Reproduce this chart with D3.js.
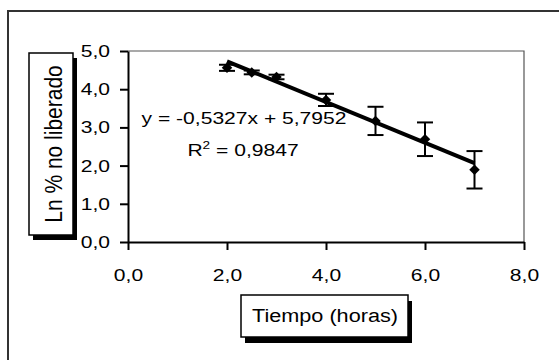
<!DOCTYPE html>
<html>
<head>
<meta charset="utf-8">
<script src="https://cdn.jsdelivr.net/npm/d3@7"></script>
<style>
  body { margin: 0; background: #fff; }
  svg { display: block; font-family: "Liberation Sans", Arial, sans-serif; }
</style>
</head>
<body>
<script>
// data
var tiempo = [2, 2.5, 3, 4, 5, 6, 7];
var lnNoLiberado = [4.56, 4.44, 4.32, 3.72, 3.17, 2.69, 1.89];
var errorBar = [0.08, 0.05, 0.06, 0.16, 0.37, 0.44, 0.49];
var xTicks = [0, 2, 4, 6, 8];
var yTicks = [0, 1, 2, 3, 4, 5];
var slope = -0.5327, intercept = 5.7952;
var eqText = "y = -0,5327x + 5,7952";
var r2Text = "0,9847";

var W = 559, H = 360;
var SX = 1.24; // the picture is stretched sideways

var svg = d3.select("body").append("svg")
    .attr("width", W)
    .attr("height", H);

// outer frame (only top and left show)
svg.append("path")
    .attr("d", "M8," + H + "V11H" + W)
    .attr("fill", "none")
    .attr("stroke", "#333")
    .attr("stroke-width", 2);

var plot = {left: 128, top: 51, right: 524, bottom: 242};

var x = d3.scaleLinear().domain([0, 8]).range([plot.left, plot.right]);
var y = d3.scaleLinear().domain([0, 5]).range([plot.bottom, plot.top]);

var fmt = d3.formatLocale({decimal: ",", thousands: ".", grouping: [3], currency: ["", ""]}).format(".1f");

// top / right border of plot area
svg.append("path")
    .attr("d", "M" + plot.left + "," + plot.top + "H" + plot.right + "V" + plot.bottom)
    .attr("fill", "none")
    .attr("stroke", "#555")
    .attr("stroke-width", 1.2);

// axes
var yAxis = svg.append("g")
    .attr("transform", "translate(" + plot.left + ",0)")
    .call(d3.axisLeft(y).tickValues(yTicks).tickFormat(fmt).tickSizeInner(8).tickSizeOuter(0));
yAxis.selectAll("text")
    .attr("x", null)
    .attr("transform", "translate(-18,0) scale(" + SX + ",1)");

var xAxis = svg.append("g")
    .attr("transform", "translate(0," + plot.bottom + ")")
    .call(d3.axisBottom(x).tickValues(xTicks).tickFormat(fmt).tickSizeInner(8).tickSizeOuter(0));
xAxis.selectAll("text")
    .attr("y", null)
    .attr("transform", "translate(0,27) scale(" + SX + ",1)");

svg.selectAll(".domain, .tick line")
    .attr("stroke", "#000")
    .attr("stroke-width", 2);
svg.selectAll(".tick text")
    .attr("fill", "#000")
    .style("font-size", "17px")
    .style("font-family", "'Liberation Sans', Arial, sans-serif");

// error bars
var pts = tiempo.map(function(t, i) { return {x: t, y: lnNoLiberado[i], e: errorBar[i]}; });
var eb = svg.append("g").attr("stroke", "#000").attr("stroke-width", 2);
pts.forEach(function(d) {
  var cx = x(d.x), y1 = y(d.y + d.e), y2 = y(d.y - d.e);
  eb.append("line").attr("x1", cx).attr("x2", cx).attr("y1", y1).attr("y2", y2);
  eb.append("line").attr("x1", cx - 8).attr("x2", cx + 8).attr("y1", y1).attr("y2", y1);
  eb.append("line").attr("x1", cx - 8).attr("x2", cx + 8).attr("y1", y2).attr("y2", y2);
});

// trend line
svg.append("line")
    .attr("x1", x(tiempo[0]))
    .attr("y1", y(slope * tiempo[0] + intercept))
    .attr("x2", x(tiempo[tiempo.length - 1]))
    .attr("y2", y(slope * tiempo[tiempo.length - 1] + intercept))
    .attr("stroke", "#000")
    .attr("stroke-width", 4);

// diamond markers
svg.selectAll(".pt")
    .data(pts)
    .enter().append("path")
    .attr("class", "pt")
    .attr("d", d3.symbol().type(d3.symbolDiamond2).size(70))
    .attr("transform", function(d) { return "translate(" + x(d.x) + "," + y(d.y) + ")"; })
    .attr("fill", "#000");

// equation and R2
svg.append("text")
    .attr("transform", "translate(244,124) scale(" + SX + ",1)")
    .attr("text-anchor", "middle")
    .style("font-size", "17px")
    .text(eqText);

var r2 = svg.append("text")
    .attr("transform", "translate(243,156) scale(" + SX + ",1)")
    .attr("text-anchor", "middle")
    .style("font-size", "17px");
r2.append("tspan").text("R");
r2.append("tspan").attr("dy", -7).style("font-size", "11px").text("2");
r2.append("tspan").attr("dy", 7).text(" = " + r2Text);

// y title box
svg.append("rect").attr("x", 33).attr("y", 58).attr("width", 44).attr("height", 182).attr("fill", "#000");
svg.append("rect").attr("x", 29).attr("y", 53).attr("width", 44).attr("height", 182)
    .attr("fill", "#fff").attr("stroke", "#000").attr("stroke-width", 1.5);
svg.append("text")
    .attr("transform", "translate(62,144) rotate(-90) scale(1,1.12)")
    .attr("text-anchor", "middle")
    .style("font-size", "21px")
    .text("Ln % no liberado");

// x title box
svg.append("rect").attr("x", 245).attr("y", 301).attr("width", 167).attr("height", 42).attr("fill", "#000");
svg.append("rect").attr("x", 241).attr("y", 295).attr("width", 167).attr("height", 42)
    .attr("fill", "#fff").attr("stroke", "#000").attr("stroke-width", 1.5);
svg.append("text")
    .attr("transform", "translate(325,322) scale(1.14,1)")
    .attr("text-anchor", "middle")
    .style("font-size", "19px")
    .text("Tiempo (horas)");
</script>
</body>
</html>
